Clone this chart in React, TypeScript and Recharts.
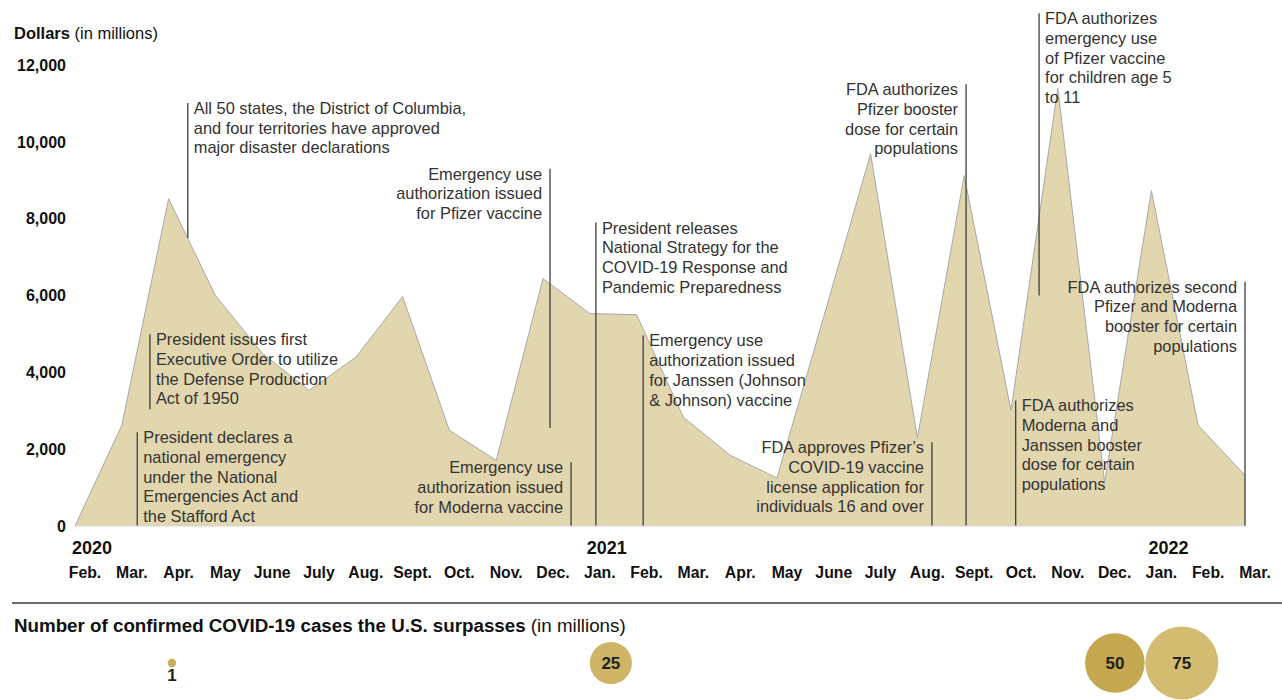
import React from 'react';
import {
  ComposedChart,
  Area,
  XAxis,
  YAxis,
  ReferenceLine,
  ScatterChart,
  Scatter,
} from 'recharts';

// ---------- data ----------
const months = [
  'Feb.', 'Mar.', 'Apr.', 'May', 'June', 'July', 'Aug.', 'Sept.', 'Oct.', 'Nov.', 'Dec.',
  'Jan.', 'Feb.', 'Mar.', 'Apr.', 'May', 'June', 'July', 'Aug.', 'Sept.', 'Oct.', 'Nov.', 'Dec.',
  'Jan.', 'Feb.', 'Mar.',
];
const yearTickIndex = [0, 11, 23];
const yearTickText = ['2020', '2021', '2022'];

// Dollars in millions, monthly
const spending = [
  0, 2620, 8520, 6000, 4500, 3530, 4390, 5970, 2490, 1710, 6440,
  5530, 5500, 2830, 1840, 1250, 5450, 9690, 2290, 9120, 3010, 11400, 1140,
  8730, 2620, 1320,
];

const yTicks = [0, 2000, 4000, 6000, 8000, 10000, 12000];

// Event annotations: x in months since Feb. 2020, top/bottom in dollars (millions)
const annotations = [
  { x: 1.33, top: 2440, bottom: 0, side: 'right', lines: ['President declares a', 'national emergency', 'under the National', 'Emergencies Act and', 'the Stafford Act'] },
  { x: 1.6, top: 4990, bottom: 3040, side: 'right', lines: ['President issues first', 'Executive Order to utilize', 'the Defense Production', 'Act of 1950'] },
  { x: 2.41, top: 11010, bottom: 7500, side: 'right', lines: ['All 50 states, the District of Columbia,', 'and four territories have approved', 'major disaster declarations'] },
  { x: 10.15, top: 9300, bottom: 2550, side: 'left', lines: ['Emergency use', 'authorization issued', 'for Pfizer vaccine'] },
  { x: 10.6, top: 1660, bottom: 0, side: 'left', lines: ['Emergency use', 'authorization issued', 'for Moderna vaccine'] },
  { x: 11.13, top: 7900, bottom: 0, side: 'right', lines: ['President releases', 'National Strategy for the', 'COVID-19 Response and', 'Pandemic Preparedness'] },
  { x: 12.14, top: 4960, bottom: 0, side: 'right', lines: ['Emergency use', 'authorization issued', 'for Janssen (Johnson', '& Johnson) vaccine'] },
  { x: 18.31, top: 2180, bottom: 0, side: 'left', lines: ["FDA approves Pfizer\u2019s", 'COVID-19 vaccine', 'license application for', 'individuals 16 and over'] },
  { x: 19.04, top: 11500, bottom: 0, side: 'left', lines: ['FDA authorizes', 'Pfizer booster', 'dose for certain', 'populations'] },
  { x: 20.1, top: 3270, bottom: 0, side: 'right', lines: ['FDA authorizes', 'Moderna and', 'Janssen booster', 'dose for certain', 'populations'] },
  { x: 20.6, top: 13350, bottom: 6000, side: 'right', lines: ['FDA authorizes', 'emergency use', 'of Pfizer vaccine', 'for children age 5', 'to 11'] },
  { x: 25, top: 6360, bottom: 0, side: 'left', lines: ['FDA authorizes second', 'Pfizer and Moderna', 'booster for certain', 'populations'] },
];

// Confirmed COVID-19 case milestones (millions) and when they were passed
const caseMilestones = [1, 25, 50, 75];
const milestonePos = [2.07, 11.45, 22.22, 23.65];
const milestoneColors = ['#c8ad5c', '#cdb466', '#c4a74f', '#d3bc71'];

// ---------- derived tables ----------
const chartData = spending.map((v, i) => ({ i, v }));
const bubbleData = caseMilestones.map((v, k) => ({ x: milestonePos[k], y: 0.5, v, k }));

const FONT = '"Liberation Sans", Arial, Helvetica, sans-serif';
const W = 1282;
const PLOT_LEFT = 75;
const PLOT_RIGHT_MARGIN = 37;

const XTick = (props: any) => {
  const { x, y, payload } = props;
  const idx = payload.value as number;
  const yi = yearTickIndex.indexOf(idx);
  return (
    <g>
      {yi >= 0 && (
        <text x={x + 17} y={y + 28} textAnchor="middle" fontFamily={FONT} fontWeight="bold" fontSize={18} fill="#111">
          {yearTickText[yi]}
        </text>
      )}
      <text x={x + 10} y={y + 52} textAnchor="middle" fontFamily={FONT} fontWeight="bold" fontSize={15.8} fill="#111">
        {months[idx]}
      </text>
    </g>
  );
};

const YTick = (props: any) => {
  const { x, y, payload } = props;
  return (
    <text x={x - 9} y={y} dy="0.36em" textAnchor="end" fontFamily={FONT} fontWeight="bold" fontSize={16} fill="#111">
      {Number(payload.value).toLocaleString('en-US')}
    </text>
  );
};

const makeAnnotationShape = (a: any) => (props: any) => {
  const { x1, y1, x2, y2 } = props;
  const top = Math.min(y1, y2);
  const left = a.side === 'left';
  const tx = left ? x1 - 8 : x1 + 6;
  return (
    <g>
      <line x1={x1} y1={y1} x2={x2} y2={y2} stroke="#3d3d3d" strokeWidth={1.3} />
      <text
        x={tx}
        y={top + 11}
        textAnchor={left ? 'end' : 'start'}
        fontFamily={FONT}
        fontSize={16.4}
        fill="#333"
      >
        {a.lines.map((l: string, j: number) => (
          <tspan key={j} x={tx} dy={j === 0 ? 0 : 19.7}>
            {l}
          </tspan>
        ))}
      </text>
    </g>
  );
};

const BubbleShape = (props: any) => {
  const { cx, cy, payload } = props;
  const r = 36.5 * Math.sqrt(payload.v / 75);
  const small = r < 10;
  return (
    <g>
      <circle cx={cx} cy={cy} r={r} fill={milestoneColors[payload.k]} />
      <text
        x={cx}
        y={small ? cy + r + 14 : cy}
        dy={small ? 0 : '0.36em'}
        textAnchor="middle"
        fontFamily={FONT}
        fontWeight="bold"
        fontSize={17}
        fill="#1f1f1f"
      >
        {payload.v}
      </text>
    </g>
  );
};

export default function App() {
  return (
    <div style={{ position: 'absolute', left: 0, top: 0, width: W, height: 700, background: '#fff', fontFamily: FONT, overflow: 'hidden' }}>
      <div style={{ position: 'absolute', left: 14, top: 23, fontSize: 16.5, lineHeight: '20px', color: '#111', whiteSpace: 'nowrap' }}>
        <b>Dollars</b> (in millions)
      </div>

      <div style={{ position: 'absolute', left: 0, top: 0 }}>
        <ComposedChart
          width={W}
          height={600}
          data={chartData}
          margin={{ top: 65, right: PLOT_RIGHT_MARGIN, bottom: 0, left: 0 }}
        >
          <XAxis
            dataKey="i"
            type="number"
            domain={[0, 25]}
            ticks={months.map((_, i) => i)}
            interval={0}
            height={74}
            tickLine={false}
            tickSize={0}
            tickMargin={0}
            axisLine={{ stroke: '#d6d6d6' }}
            tick={<XTick />}
          />
          <YAxis
            type="number"
            domain={[0, 12000]}
            ticks={yTicks}
            width={PLOT_LEFT}
            tickLine={false}
            tickSize={0}
            tickMargin={0}
            axisLine={false}
            tick={<YTick />}
          />
          <Area
            type="linear"
            dataKey="v"
            fill="#e2d6ae"
            fillOpacity={1}
            stroke="#a8a8a8"
            strokeWidth={1}
            isAnimationActive={false}
          />
          {annotations.map((a, k) => (
            <ReferenceLine
              key={k}
              segment={[{ x: a.x, y: a.top }, { x: a.x, y: a.bottom }]}
              ifOverflow="visible"
              shape={makeAnnotationShape(a)}
            />
          ))}
        </ComposedChart>
      </div>

      <div style={{ position: 'absolute', left: 12, top: 602, width: W - 12, height: 2, background: '#6a6a6a' }} />

      <div style={{ position: 'absolute', left: 14, top: 615, fontSize: 18.75, lineHeight: '22px', color: '#111', whiteSpace: 'nowrap' }}>
        <b>Number of confirmed COVID-19 cases the U.S. surpasses</b> (in millions)
      </div>

      <div style={{ position: 'absolute', left: 0, top: 613 }}>
        <ScatterChart width={W} height={100} margin={{ top: 0, right: PLOT_RIGHT_MARGIN, bottom: 0, left: PLOT_LEFT }}>
          <XAxis dataKey="x" type="number" domain={[0, 25]} hide />
          <YAxis dataKey="y" type="number" domain={[0, 1]} hide />
          <Scatter data={bubbleData} shape={<BubbleShape />} isAnimationActive={false} />
        </ScatterChart>
      </div>
    </div>
  );
}
